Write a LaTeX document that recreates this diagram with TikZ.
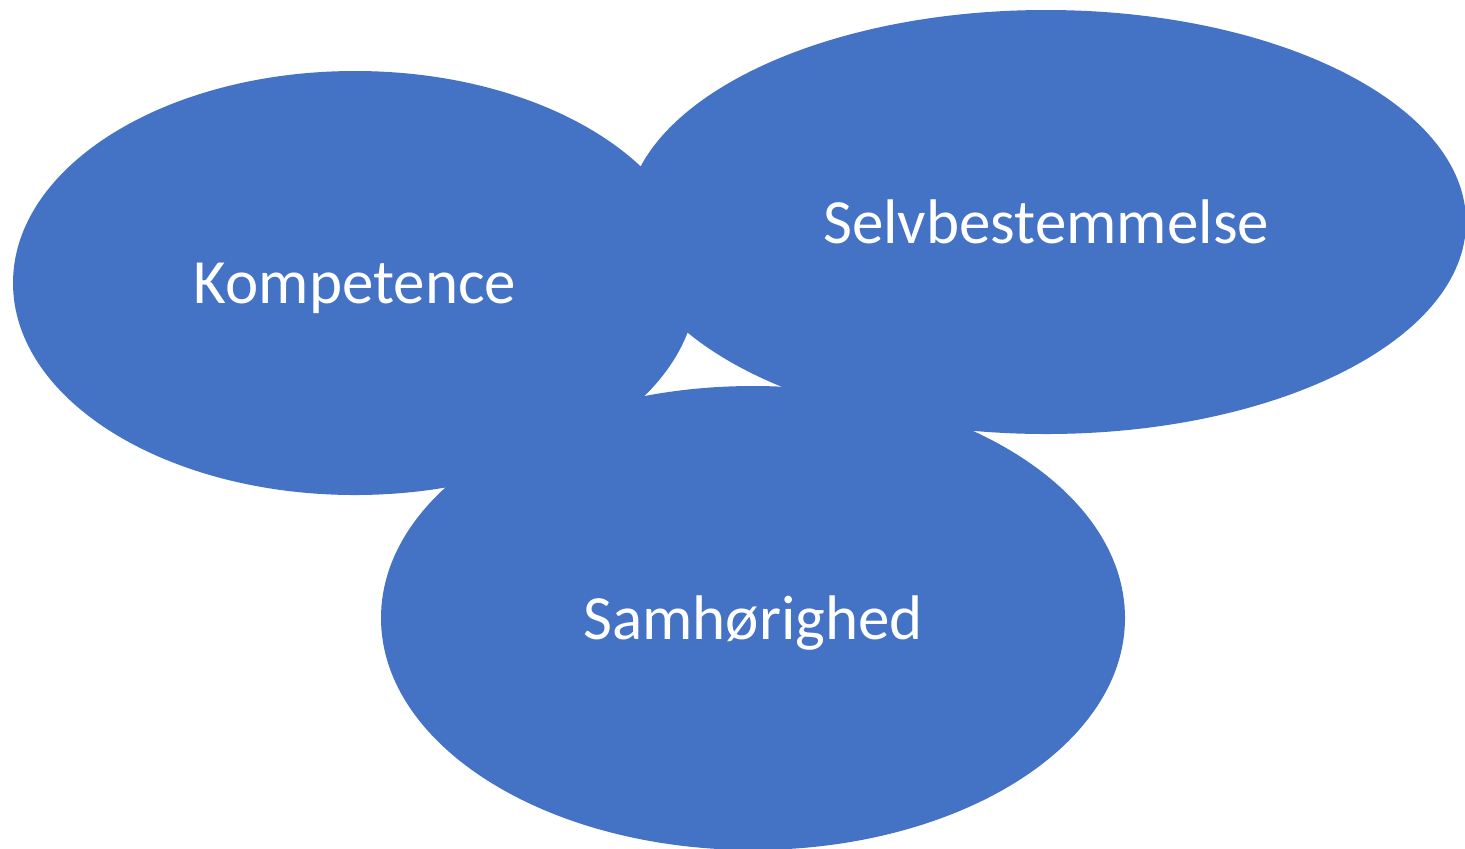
\documentclass[tikz,border=0pt]{standalone}
\usepackage{fontspec}
\setmainfont{Carlito}
\usepackage{xcolor}
\usetikzlibrary{shapes.geometric}
\definecolor{blaa}{HTML}{4472C4}

\begin{document}
\begin{tikzpicture}[
  x=0.5pt, y=-0.5pt,
  boble/.style={ellipse, fill=blaa, inner sep=0pt, text=white, text depth=0pt,
                font=\fontsize{31.5}{38}\selectfont}
]
\useasboundingbox (0,0) rectangle (1465,848);
\node[boble, minimum width=684pt/2, minimum height=424pt/2] (kompetence) at (355,283) {Kompetence};
\node[boble, minimum width=744pt/2, minimum height=464pt/2] (samhorighed) at (753,618) {Samhørighed};
\node[boble, minimum width=840pt/2, minimum height=424pt/2] (selvbestemmelse) at (1046,222) {Selvbestemmelse};
\end{tikzpicture}
\end{document}
